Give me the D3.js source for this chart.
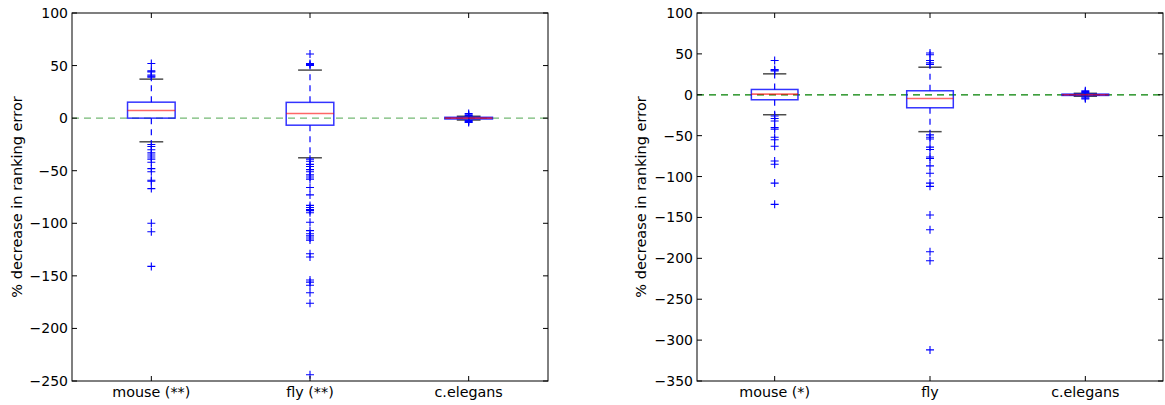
<!DOCTYPE html>
<html>
<head>
<meta charset="utf-8">
<script src="https://cdn.jsdelivr.net/npm/d3@7"></script>
<style>
  body { margin: 0; background: #fff; }
  svg { display: block; font-family: "DejaVu Sans", sans-serif; }
</style>
</head>
<body>
<svg id="chart" width="1165" height="405"></svg>
<script>
// ---------------- data ----------------

// left panel
const leftCategories = ["mouse (**)", "fly (**)", "c.elegans"];
const leftTicks = [100, 50, 0, -50, -100, -150, -200, -250];
const leftQ1 = [0, -6.7, -0.8];
const leftMedian = [7.3, 4.4, 0];
const leftQ3 = [15.2, 15, 0.8];
const leftWhiskerLow = [-22.5, -37.7, -1.8];
const leftWhiskerHigh = [37.1, 45.7, 1.8];
const leftFliers = [
    [52, 45, 44, 41, 40, 39,
     -25, -27, -30, -33, -35, -37, -39, -42, -48, -51, -59, -60, -67, -100, -108, -141],
    [61, 52, 51, 50,
     -39, -41, -44, -46, -49, -51, -54, -56, -58, -66, -73, -83, -85, -87, -88, -90, -99,
     -107, -110, -112, -114, -116, -129, -132, -154, -156, -159, -166, -176, -244],
    [4.4, 3.2, 2.4, -2.4, -3.3, -4.2]
];

// right panel
const rightCategories = ["mouse (*)", "fly", "c.elegans"];
const rightTicks = [100, 50, 0, -50, -100, -150, -200, -250, -300, -350];
const rightQ1 = [-6.1, -15.9, -0.8];
const rightMedian = [0.8, -4.5, 0];
const rightQ3 = [6.5, 4.9, 0.8];
const rightWhiskerLow = [-24.4, -45.1, -1.8];
const rightWhiskerHigh = [25.6, 33.7, 1.8];
const rightFliers = [
    [42, 31, 30, 29,
     -26, -29, -32, -40, -42, -52, -55, -63, -81, -85, -108, -134],
    [51, 49, 42, 39, 37,
     -49, -52, -54, -64, -67, -76, -78, -87, -96, -108, -112, -147, -165, -192, -203, -312],
    [5, 3.8, 2.6, -2.8, -3.9, -5]
];

// ---------------- drawing ----------------

const svg = d3.select("#chart");

function drawPanel(p) {

    const x = d3.scaleLinear().domain([0.5, 3.5]).range([p.left, p.right]);
    const y = d3.scaleLinear().domain([p.min, p.max]).range([p.bottom, p.top]);
    const g = svg.append("g");
    const boxW = x(1.15) - x(0.85);
    const capW = x(1.075) - x(0.925);

    const stats = p.categories.map((c, i) => ({
        i: i + 1,
        q1: p.q1[i], med: p.median[i], q3: p.q3[i],
        lo: p.whiskerLow[i], hi: p.whiskerHigh[i],
        fliers: p.fliers[i]
    }));

    // zero reference line (drawn under the boxes)
    g.append("line")
        .attr("x1", p.left).attr("x2", p.right)
        .attr("y1", y(0)).attr("y2", y(0))
        .attr("stroke", p.zeroColor)
        .attr("stroke-opacity", p.zeroOpacity)
        .attr("stroke-width", 1.3)
        .attr("stroke-dasharray", "7,5");

    const box = g.selectAll("g.box").data(stats).join("g").classed("box", true);

    // whiskers (dashed)
    box.append("line")
        .attr("x1", d => x(d.i)).attr("x2", d => x(d.i))
        .attr("y1", d => y(d.q3)).attr("y2", d => y(d.hi))
        .attr("stroke", "#00f").attr("stroke-width", 1.2).attr("stroke-dasharray", "6,5");
    box.append("line")
        .attr("x1", d => x(d.i)).attr("x2", d => x(d.i))
        .attr("y1", d => y(d.q1)).attr("y2", d => y(d.lo))
        .attr("stroke", "#00f").attr("stroke-width", 1.2).attr("stroke-dasharray", "6,5");

    // caps
    ["lo", "hi"].forEach(k => {
        box.append("line")
            .attr("x1", d => x(d.i) - capW / 2).attr("x2", d => x(d.i) + capW / 2)
            .attr("y1", d => y(d[k])).attr("y2", d => y(d[k]))
            .attr("stroke", "#000").attr("stroke-opacity", 0.7).attr("stroke-width", 1.5);
    });

    // fliers
    box.each(function (d) {
        d3.select(this).selectAll("path.flier")
            .data(d.fliers)
            .join("path")
                .classed("flier", true)
                .attr("transform", v => `translate(${x(d.i)},${y(v)})`)
                .attr("d", "M-4,0H4M0,-4V4")
                .attr("stroke", "#00f")
                .attr("stroke-width", 1.1)
                .attr("fill", "none");
    });

    // box
    box.append("rect")
        .attr("x", d => x(d.i) - boxW / 2)
        .attr("width", boxW)
        .attr("y", d => y(d.q3))
        .attr("height", d => y(d.q1) - y(d.q3))
        .attr("fill", "none")
        .attr("stroke", "#00f")
        .attr("stroke-opacity", 0.8)
        .attr("stroke-width", 1.5);

    // median
    box.append("line")
        .attr("x1", d => x(d.i) - boxW / 2).attr("x2", d => x(d.i) + boxW / 2)
        .attr("y1", d => y(d.med)).attr("y2", d => y(d.med))
        .attr("stroke", "#f00").attr("stroke-width", 1.6).attr("stroke-opacity", 0.6);

    // frame
    g.append("rect")
        .attr("x", p.left).attr("y", p.top)
        .attr("width", p.right - p.left).attr("height", p.bottom - p.top)
        .attr("fill", "none").attr("stroke", "#000").attr("stroke-width", 1);

    // y ticks (inward on both sides)
    const yt = g.selectAll("g.ytick").data(p.ticks).join("g").classed("ytick", true);
    yt.append("line").attr("x1", p.left).attr("x2", p.left + 5)
        .attr("y1", d => y(d)).attr("y2", d => y(d)).attr("stroke", "#000");
    yt.append("line").attr("x1", p.right).attr("x2", p.right - 5)
        .attr("y1", d => y(d)).attr("y2", d => y(d)).attr("stroke", "#000");
    yt.append("text")
        .attr("x", p.left - 4)
        .attr("y", d => y(d))
        .attr("dy", "0.36em")
        .attr("text-anchor", "end")
        .attr("font-size", 14)
        .text(d => d < 0 ? "\u2212" + Math.abs(d) : d);

    // x ticks
    const xt = g.selectAll("g.xtick").data(stats).join("g").classed("xtick", true);
    xt.append("line").attr("x1", d => x(d.i)).attr("x2", d => x(d.i))
        .attr("y1", p.bottom).attr("y2", p.bottom - 5).attr("stroke", "#000");
    xt.append("line").attr("x1", d => x(d.i)).attr("x2", d => x(d.i))
        .attr("y1", p.top).attr("y2", p.top + 5).attr("stroke", "#000");
    xt.append("text")
        .attr("x", d => x(d.i))
        .attr("y", p.bottom + 16)
        .attr("text-anchor", "middle")
        .attr("font-size", 14.3)
        .text((d, i) => p.categories[i]);

    // y label
    g.append("text")
        .attr("transform", `translate(${p.labelX},${(p.top + p.bottom) / 2}) rotate(-90)`)
        .attr("text-anchor", "middle")
        .attr("dy", "0.36em")
        .attr("font-size", 14.5)
        .text("% decrease in ranking error");
}

drawPanel({
    left: 72, right: 548, top: 13, bottom: 381,
    min: -250, max: 100, ticks: leftTicks,
    categories: leftCategories, q1: leftQ1, median: leftMedian, q3: leftQ3,
    whiskerLow: leftWhiskerLow, whiskerHigh: leftWhiskerHigh, fliers: leftFliers,
    zeroColor: "#008000", zeroOpacity: 0.55, labelX: 17
});

drawPanel({
    left: 697, right: 1163, top: 13, bottom: 381,
    min: -350, max: 100, ticks: rightTicks,
    categories: rightCategories, q1: rightQ1, median: rightMedian, q3: rightQ3,
    whiskerLow: rightWhiskerLow, whiskerHigh: rightWhiskerHigh, fliers: rightFliers,
    zeroColor: "#008000", zeroOpacity: 1, labelX: 641
});
</script>
</body>
</html>
